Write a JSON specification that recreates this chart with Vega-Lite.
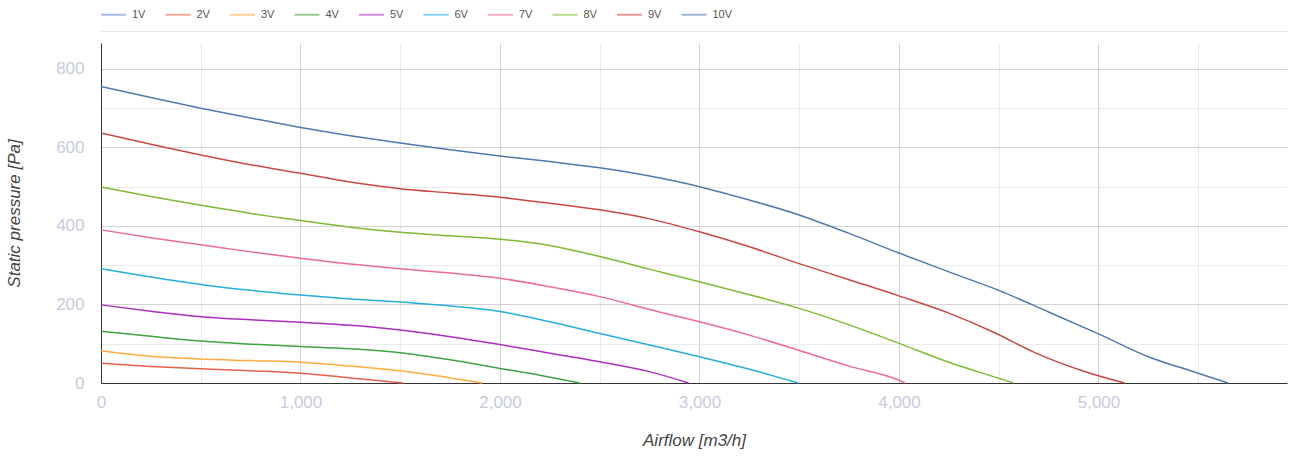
{
  "$schema": "https://vega.github.io/schema/vega-lite/v6.json",
  "width": 1186,
  "height": 340,
  "autosize": {"type": "none"},
  "padding": {"left": 101, "top": 43, "right": 6, "bottom": 76},
  "background": "white",
  "config": {
    "view": {"stroke": null},
    "font": "Liberation Sans",
    "axisY": {
      "values": [0, 100, 200, 300, 400, 500, 600, 700, 800],
      "labelExpr": "datum.value % 200 === 0 ? format(datum.value, ',') : ''",
      "grid": true,
      "gridColor": {"condition": {"test": "datum.value % 200 === 0", "value": "#d3d3d3"}, "value": "#ebebeb"},
      "gridWidth": 1,
      "ticks": false,
      "domainColor": "#333333",
      "domainWidth": 1,
      "labelColor": "#c8cbdd",
      "labelFontSize": 17,
      "labelPadding": 17,
      "labelFont": "Liberation Sans",
      "titleFont": "Liberation Sans",
      "titleFontStyle": "italic",
      "titleFontWeight": "normal",
      "titleFontSize": 17,
      "titleColor": "#444444",
      "titlePadding": 32
    }
  },
  "data": {
    "values": [
      {"s": "2V", "q": 0, "p": 50}, {"s": "2V", "q": 250, "p": 42}, {"s": "2V", "q": 500, "p": 36}, {"s": "2V", "q": 750, "p": 31}, {"s": "2V", "q": 1000, "p": 25}, {"s": "2V", "q": 1250, "p": 13}, {"s": "2V", "q": 1515, "p": 0},
      {"s": "3V", "q": 0, "p": 82}, {"s": "3V", "q": 250, "p": 68}, {"s": "3V", "q": 500, "p": 61}, {"s": "3V", "q": 750, "p": 57}, {"s": "3V", "q": 1000, "p": 53}, {"s": "3V", "q": 1250, "p": 43}, {"s": "3V", "q": 1500, "p": 31}, {"s": "3V", "q": 1750, "p": 13}, {"s": "3V", "q": 1910, "p": 0},
      {"s": "4V", "q": 0, "p": 132}, {"s": "4V", "q": 250, "p": 119}, {"s": "4V", "q": 500, "p": 107}, {"s": "4V", "q": 750, "p": 99}, {"s": "4V", "q": 1000, "p": 93}, {"s": "4V", "q": 1250, "p": 87}, {"s": "4V", "q": 1500, "p": 77}, {"s": "4V", "q": 1750, "p": 59}, {"s": "4V", "q": 2000, "p": 37}, {"s": "4V", "q": 2200, "p": 20}, {"s": "4V", "q": 2400, "p": 0},
      {"s": "5V", "q": 0, "p": 199}, {"s": "5V", "q": 250, "p": 183}, {"s": "5V", "q": 500, "p": 169}, {"s": "5V", "q": 750, "p": 161}, {"s": "5V", "q": 1000, "p": 155}, {"s": "5V", "q": 1250, "p": 147}, {"s": "5V", "q": 1500, "p": 135}, {"s": "5V", "q": 1750, "p": 118}, {"s": "5V", "q": 2000, "p": 98}, {"s": "5V", "q": 2250, "p": 76}, {"s": "5V", "q": 2500, "p": 54}, {"s": "5V", "q": 2750, "p": 29}, {"s": "5V", "q": 2945, "p": 0},
      {"s": "6V", "q": 0, "p": 291}, {"s": "6V", "q": 250, "p": 270}, {"s": "6V", "q": 500, "p": 251}, {"s": "6V", "q": 750, "p": 236}, {"s": "6V", "q": 1000, "p": 224}, {"s": "6V", "q": 1250, "p": 214}, {"s": "6V", "q": 1500, "p": 206}, {"s": "6V", "q": 1750, "p": 196}, {"s": "6V", "q": 2000, "p": 182}, {"s": "6V", "q": 2250, "p": 156}, {"s": "6V", "q": 2500, "p": 126}, {"s": "6V", "q": 2750, "p": 97}, {"s": "6V", "q": 3000, "p": 67}, {"s": "6V", "q": 3250, "p": 35}, {"s": "6V", "q": 3495, "p": 0},
      {"s": "7V", "q": 0, "p": 390}, {"s": "7V", "q": 250, "p": 370}, {"s": "7V", "q": 500, "p": 352}, {"s": "7V", "q": 750, "p": 334}, {"s": "7V", "q": 1000, "p": 318}, {"s": "7V", "q": 1250, "p": 303}, {"s": "7V", "q": 1500, "p": 291}, {"s": "7V", "q": 1750, "p": 280}, {"s": "7V", "q": 2000, "p": 267}, {"s": "7V", "q": 2250, "p": 245}, {"s": "7V", "q": 2500, "p": 220}, {"s": "7V", "q": 2750, "p": 187}, {"s": "7V", "q": 3000, "p": 156}, {"s": "7V", "q": 3250, "p": 122}, {"s": "7V", "q": 3500, "p": 83}, {"s": "7V", "q": 3750, "p": 43}, {"s": "7V", "q": 4000, "p": 7}, {"s": "7V", "q": 4030, "p": 0},
      {"s": "8V", "q": 0, "p": 499}, {"s": "8V", "q": 250, "p": 475}, {"s": "8V", "q": 500, "p": 453}, {"s": "8V", "q": 750, "p": 432}, {"s": "8V", "q": 1000, "p": 414}, {"s": "8V", "q": 1250, "p": 397}, {"s": "8V", "q": 1500, "p": 384}, {"s": "8V", "q": 1750, "p": 375}, {"s": "8V", "q": 2000, "p": 366}, {"s": "8V", "q": 2250, "p": 350}, {"s": "8V", "q": 2500, "p": 322}, {"s": "8V", "q": 2750, "p": 290}, {"s": "8V", "q": 3000, "p": 258}, {"s": "8V", "q": 3250, "p": 225}, {"s": "8V", "q": 3500, "p": 190}, {"s": "8V", "q": 3750, "p": 148}, {"s": "8V", "q": 4000, "p": 101}, {"s": "8V", "q": 4250, "p": 53}, {"s": "8V", "q": 4450, "p": 20}, {"s": "8V", "q": 4575, "p": 0},
      {"s": "9V", "q": 0, "p": 637}, {"s": "9V", "q": 250, "p": 608}, {"s": "9V", "q": 500, "p": 581}, {"s": "9V", "q": 750, "p": 556}, {"s": "9V", "q": 1000, "p": 534}, {"s": "9V", "q": 1250, "p": 512}, {"s": "9V", "q": 1500, "p": 495}, {"s": "9V", "q": 1750, "p": 484}, {"s": "9V", "q": 2000, "p": 473}, {"s": "9V", "q": 2250, "p": 458}, {"s": "9V", "q": 2500, "p": 441}, {"s": "9V", "q": 2750, "p": 418}, {"s": "9V", "q": 3000, "p": 385}, {"s": "9V", "q": 3250, "p": 347}, {"s": "9V", "q": 3500, "p": 304}, {"s": "9V", "q": 3750, "p": 263}, {"s": "9V", "q": 4000, "p": 222}, {"s": "9V", "q": 4250, "p": 178}, {"s": "9V", "q": 4480, "p": 128}, {"s": "9V", "q": 4670, "p": 80}, {"s": "9V", "q": 4950, "p": 26}, {"s": "9V", "q": 5130, "p": 0},
      {"s": "10V", "q": 0, "p": 755}, {"s": "10V", "q": 250, "p": 727}, {"s": "10V", "q": 500, "p": 700}, {"s": "10V", "q": 750, "p": 675}, {"s": "10V", "q": 1000, "p": 651}, {"s": "10V", "q": 1250, "p": 630}, {"s": "10V", "q": 1500, "p": 611}, {"s": "10V", "q": 1750, "p": 594}, {"s": "10V", "q": 2000, "p": 578}, {"s": "10V", "q": 2250, "p": 564}, {"s": "10V", "q": 2500, "p": 548}, {"s": "10V", "q": 2750, "p": 527}, {"s": "10V", "q": 3000, "p": 500}, {"s": "10V", "q": 3250, "p": 466}, {"s": "10V", "q": 3500, "p": 428}, {"s": "10V", "q": 3750, "p": 381}, {"s": "10V", "q": 4000, "p": 331}, {"s": "10V", "q": 4250, "p": 283}, {"s": "10V", "q": 4500, "p": 236}, {"s": "10V", "q": 4750, "p": 181}, {"s": "10V", "q": 5000, "p": 125}, {"s": "10V", "q": 5250, "p": 67}, {"s": "10V", "q": 5500, "p": 25}, {"s": "10V", "q": 5650, "p": 0}
    ]
  },
  "layer": [
    {
      "mark": {"type": "line", "strokeOpacity": 0},
      "encoding": {
        "x": {
          "field": "q", "type": "quantitative",
          "scale": {"domain": [0, 5945], "nice": false, "zero": true},
          "axis": {"orient": "top", "offset": 12, "domainColor": "#e6e6e6", "domainWidth": 1, "labels": false, "ticks": false, "grid": false, "title": null}
        },
        "y": {"field": "p", "type": "quantitative", "scale": {"domain": [0, 866], "nice": false}, "title": "Static pressure [Pa]"},
        "detail": {"field": "s"}
      }
    },
    {
      "mark": {"type": "line", "strokeWidth": 1.5, "interpolate": "monotone"},
      "encoding": {
        "x": {
          "field": "q", "type": "quantitative",
          "axis": {
            "orient": "bottom",
            "values": [0, 500, 1000, 1500, 2000, 2500, 3000, 3500, 4000, 4500, 5000, 5500],
            "labelExpr": "datum.value % 1000 === 0 ? format(datum.value, ',') : ''",
            "labelFlush": false,
            "grid": true,
            "gridColor": {"condition": {"test": "datum.value % 1000 === 0", "value": "#d3d3d3"}, "value": "#ebebeb"},
            "gridWidth": 1,
            "ticks": false,
            "domainColor": "#333333",
            "domainWidth": 1,
            "labelColor": "#c8cbdd",
            "labelFontSize": 17,
            "labelPadding": 11,
            "labelFont": "Liberation Sans",
            "title": "Airflow [m3/h]",
            "titleFont": "Liberation Sans",
            "titleFontStyle": "italic",
            "titleFontWeight": "normal",
            "titleFontSize": 17,
            "titleColor": "#444444",
            "titlePadding": 22
          }
        },
        "y": {"field": "p", "type": "quantitative", "title": "Static pressure [Pa]"},
        "color": {
          "field": "s", "type": "nominal",
          "scale": {
            "domain": ["1V", "2V", "3V", "4V", "5V", "6V", "7V", "8V", "9V", "10V"],
            "range": ["#5c85d6", "#e8604c", "#ffab40", "#3fa33f", "#ab2fbd", "#25aee0", "#ec6a9e", "#7dbb33", "#cb4744", "#5079b0"]
          },
          "legend": {
            "orient": "none",
            "legendX": -1,
            "legendY": -42,
            "direction": "horizontal",
            "columns": 10,
            "gridAlign": "all",
            "title": null,
            "symbolType": "stroke",
            "symbolSize": 625,
            "symbolStrokeWidth": 2,
            "symbolOpacity": 0.55,
            "labelFontSize": 11,
            "labelColor": "#555555",
            "labelFont": "Liberation Sans",
            "labelOffset": 5,
            "columnPadding": 9.5
          }
        }
      }
    }
  ]
}
